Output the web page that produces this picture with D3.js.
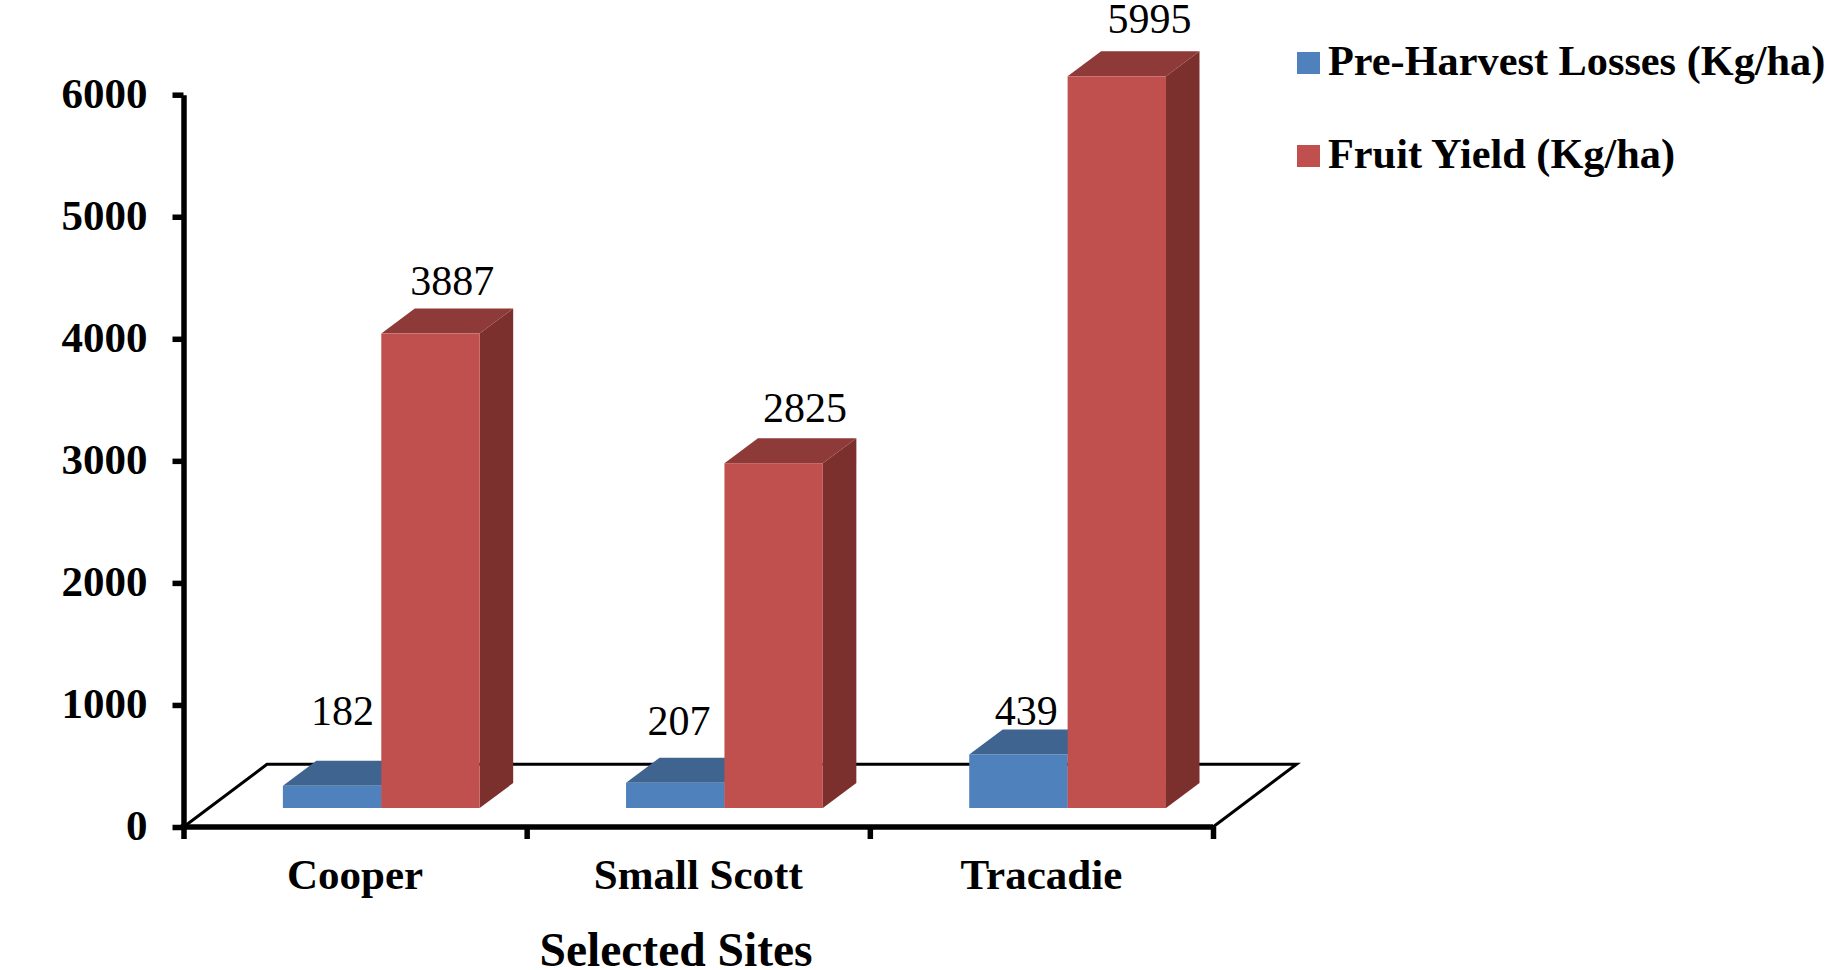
<!DOCTYPE html>
<html>
<head>
<meta charset="utf-8">
<style>
  html, body { margin: 0; padding: 0; background: #fff; overflow: hidden; }
  svg { display: block; }
  text { font-family: "Liberation Serif", "Times New Roman", serif; fill: #000; }
  .bold { font-weight: 700; }
  .axis path, .axis line { stroke: #000; stroke-width: 5.5; }
  .axis text { font-family: "Liberation Serif", serif; font-weight: 700; font-size: 43px; fill: #000; }
</style>
</head>
<body>
<svg id="chart" width="1826" height="970"></svg>
<script src="https://cdnjs.cloudflare.com/ajax/libs/d3/7.8.5/d3.min.js"></script>
<script>
// Site names, measured series and axis settings
const sites = ["Cooper", "Small Scott", "Tracadie"];
const preHarvestLosses = [182, 207, 439];
const fruitYield = [3887, 2825, 5995];
const yTicks = [0, 1000, 2000, 3000, 4000, 5000, 6000];
const seriesNames = ["Pre-Harvest Losses (Kg/ha)", "Fruit Yield (Kg/ha)"];
const axisTitle = "Selected Sites";

// Colours of each bar's front, top and side faces
const faces = [
  { front: "#4f81bd", top: "#3f6490", side: "#3a5d87" },
  { front: "#c0504d", top: "#8e3a38", side: "#7b302e" }
];

// Layout of the oblique floor and the bars standing on it
const plot = { left: 183.5, right: 1213, bottom: 827, top: 94.7 };
const floorDepth = { dx: 83.5, dy: 62.7 };
const barPlane = { dx: 26.2, dy: 19 };
const barDepth = { dx: 33.5, dy: 25 };
const barWidth = 98.4;

const svg = d3.select("#chart");
const x = d3.scaleBand().domain(sites).range([plot.left, plot.right]);
const y = d3.scaleLinear().domain([0, 6000]).range([plot.bottom, plot.top]);
const seriesX = d3.scaleBand().domain([0, 1]).range([-barWidth, barWidth]);

// Floor parallelogram behind the bars
svg.append("path")
  .attr("d", d3.line()([
    [plot.left, plot.bottom],
    [plot.left + floorDepth.dx, plot.bottom - floorDepth.dy],
    [plot.right + floorDepth.dx, plot.bottom - floorDepth.dy],
    [plot.right, plot.bottom]
  ]))
  .attr("fill", "#fff")
  .attr("stroke", "#000")
  .attr("stroke-width", 3)
  .attr("stroke-linejoin", "miter");

// Each bar is three polygons; the blue series goes first so red overlaps it
const barsLayer = svg.append("g");
[preHarvestLosses, fruitYield].forEach((values, s) => {
  values.forEach((v, i) => {
    const x0 = x(sites[i]) + x.bandwidth() / 2 + barPlane.dx + seriesX(s);
    const x1 = x0 + barWidth;
    const yBase = y(0) - barPlane.dy;
    const yTop = y(v) - barPlane.dy;
    const g = barsLayer.append("g");
    g.append("polygon")
      .attr("points", [[x1, yBase], [x1 + barDepth.dx, yBase - barDepth.dy], [x1 + barDepth.dx, yTop - barDepth.dy], [x1, yTop]].join(" "))
      .attr("fill", faces[s].side);
    g.append("polygon")
      .attr("points", [[x0, yTop], [x0 + barDepth.dx, yTop - barDepth.dy], [x1 + barDepth.dx, yTop - barDepth.dy], [x1, yTop]].join(" "))
      .attr("fill", faces[s].top);
    g.append("rect")
      .attr("x", x0).attr("y", yTop)
      .attr("width", barWidth).attr("height", yBase - yTop)
      .attr("fill", faces[s].front);
  });
});

// Axes
const yAxis = svg.append("g")
  .attr("class", "axis")
  .attr("transform", `translate(${plot.left},0)`)
  .call(d3.axisLeft(y).tickValues(yTicks).tickFormat(d3.format("d")).tickSize(11).tickSizeOuter(0).tickPadding(25));
yAxis.selectAll("text").attr("dy", "0.3em");

const tickEdges = d3.range(sites.length + 1).map(i => plot.left + i * x.step());
const xEdge = d3.scaleOrdinal().domain(tickEdges).range(tickEdges);
const xAxis = svg.append("g")
  .attr("class", "axis")
  .attr("transform", `translate(0,${plot.bottom})`)
  .call(d3.axisBottom(xEdge).tickValues(tickEdges).tickFormat("").tickSize(12).tickSizeOuter(0));
xAxis.select(".domain").attr("d", `M${plot.left - 2.75},0H${plot.right}`);

// Category names centred under their bands
svg.selectAll(".site")
  .data(sites)
  .join("text")
  .attr("class", "site bold")
  .attr("x", d => x(d) + x.bandwidth() / 2)
  .attr("y", 889)
  .attr("text-anchor", "middle")
  .attr("font-size", 43)
  .text(d => d);

svg.append("text")
  .attr("class", "bold")
  .attr("x", 676).attr("y", 966)
  .attr("text-anchor", "middle")
  .attr("font-size", 47.5)
  .text(axisTitle);

// Value labels, hand-placed relative to each bar's top
const labelNudge = [
  [{ dx: 59.5, dy: -61 }, { dx: 71, dy: -39 }],
  [{ dx: 53, dy: -47.5 }, { dx: 80.5, dy: -41.5 }],
  [{ dx: 57, dy: -29 }, { dx: 82, dy: -43 }]
];
[preHarvestLosses, fruitYield].forEach((values, s) => {
  values.forEach((v, i) => {
    const n = labelNudge[i][s];
    const x0 = x(sites[i]) + x.bandwidth() / 2 + barPlane.dx + seriesX(s);
    svg.append("text")
      .attr("x", x0 + n.dx)
      .attr("y", y(v) - barPlane.dy + n.dy)
      .attr("text-anchor", "middle")
      .attr("font-size", 42)
      .text(v);
  });
});

// Legend
const legend = svg.append("g");
seriesNames.forEach((name, s) => {
  const rowY = 52 + s * 93;
  legend.append("rect")
    .attr("x", 1297).attr("y", rowY)
    .attr("width", 23).attr("height", 22)
    .attr("fill", faces[s].front);
  legend.append("text")
    .attr("class", "bold")
    .attr("x", 1328).attr("y", rowY + 23)
    .attr("font-size", 42.3)
    .text(name);
});
</script>
</body>
</html>
